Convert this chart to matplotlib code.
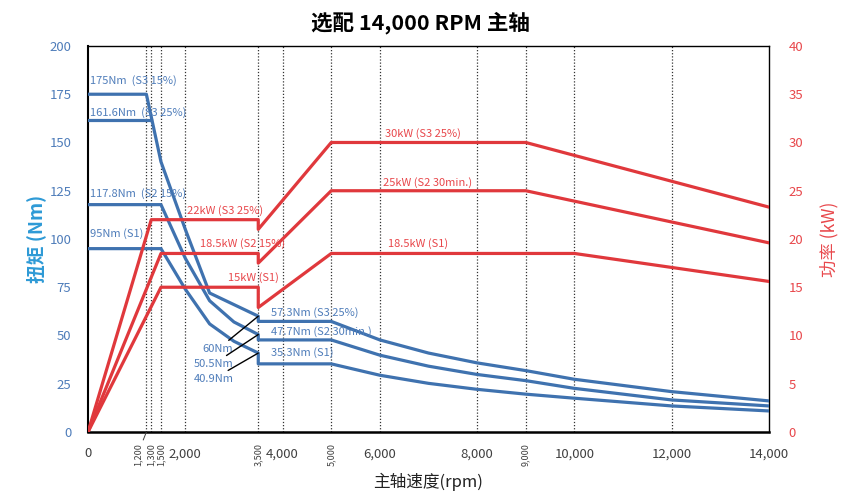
import matplotlib
matplotlib.use("Agg")
import matplotlib.pyplot as plt
import matplotlib.transforms as mtrans

plt.rcParams['font.family'] = ['Noto Sans CJK SC', 'DejaVu Sans']

# ---- data ----
# torque curves (Nm) vs spindle speed (rpm)
rpm_t_s3 = [0, 1200, 1500, 2000, 2500, 3500, 3500, 5000, 6000, 7000, 8000, 9000, 10000, 12000, 14000]
tq_s3 = [175, 175, 140, 105, 72, 60, 57.3, 57.3, 47.7, 40.9, 35.8, 31.8, 27.3, 20.9, 16.1]
rpm_t_s3b = [0, 1300]
tq_s3b = [161.6, 161.6]
rpm_t_s2 = [0, 1500, 2000, 2500, 3000, 3500, 3500, 5000, 6000, 7000, 8000, 9000, 10000, 12000, 14000]
tq_s2 = [117.8, 117.8, 90, 68, 57, 50.5, 47.7, 47.7, 39.8, 34.1, 29.8, 26.6, 22.6, 16.6, 13.5]
rpm_t_s1 = [0, 1500, 2000, 2500, 3000, 3500, 3500, 5000, 6000, 7000, 8000, 9000, 10000, 12000, 14000]
tq_s1 = [95, 95, 74, 56, 47, 40.9, 35.3, 35.3, 29.4, 25.2, 22.1, 19.6, 17.5, 13.5, 10.9]

# power curves (kW)
rpm_p_s3 = [0, 1300, 3500, 3500, 5000, 9000, 14000]
pw_s3 = [0, 22, 22, 21, 30, 30, 23.3]
rpm_p_s2 = [0, 1500, 3500, 3500, 5000, 9000, 14000]
pw_s2 = [0, 18.5, 18.5, 17.5, 25, 25, 19.6]
rpm_p_s1 = [0, 1500, 3500, 3500, 5000, 10000, 14000]
pw_s1 = [0, 15, 15, 12.9, 18.5, 18.5, 15.6]

grid_rpm = [1200, 1300, 1500, 2000, 3500, 4000, 5000, 6000, 8000, 9000, 10000, 12000]
major_ticks = [0, 2000, 4000, 6000, 8000, 10000, 12000, 14000]
minor_labels = [1200, 1300, 1500, 3500, 5000, 9000]

blue = '#3F72AF'
blue_txt = '#4F7DBA'
red = '#E0383C'
red_txt = '#E8474B'

fig = plt.figure(figsize=(8.52, 4.95), dpi=100)
ax = fig.add_axes([0.1033, 0.1273, 0.7993, 0.7798])
ax2 = ax.twinx()

for g in grid_rpm:
    ax.axvline(g, color='#333333', ls=(0, (1, 1.5)), lw=0.9, zorder=1)

lw = 2.3
ax.plot(rpm_t_s3, tq_s3, color=blue, lw=lw, zorder=3)
ax.plot(rpm_t_s3b, tq_s3b, color=blue, lw=lw, zorder=3)
ax.plot(rpm_t_s2, tq_s2, color=blue, lw=lw, zorder=3)
ax.plot(rpm_t_s1, tq_s1, color=blue, lw=lw, zorder=3)

ax2.plot(rpm_p_s3, pw_s3, color=red, lw=lw)
ax2.plot(rpm_p_s2, pw_s2, color=red, lw=lw)
ax2.plot(rpm_p_s1, pw_s1, color=red, lw=lw)

ax.set_xlim(0, 14000)
ax.set_ylim(0, 200)
ax2.set_ylim(0, 40)
ax.set_yticks(range(0, 201, 25))
ax2.set_yticks(range(0, 41, 5))
ax.set_xticks(major_ticks)
ax.set_xticklabels([f'{v:,}' for v in major_ticks])

ax.tick_params(axis='both', length=0, labelsize=9.5)
ax.tick_params(axis='y', colors=blue_txt, pad=12)
ax.tick_params(axis='x', colors='#404040', pad=11)
ax2.tick_params(axis='y', length=0, labelsize=9.5, colors=red_txt, pad=14)

for sp in ['left', 'right', 'top', 'bottom']:
    ax2.spines[sp].set_visible(False)
    ax.spines[sp].set_color('black')
ax.spines['left'].set_linewidth(1.5)
ax.spines['bottom'].set_linewidth(1.8)
ax.spines['top'].set_linewidth(1.0)
ax.spines['right'].set_linewidth(1.0)

# small rotated speed labels under the axis
trans = mtrans.blended_transform_factory(ax.transData, ax.transAxes)
for v in minor_labels:
    if v == 1200:
        ax.annotate(f'{v:,}', xy=(v, 0), xytext=(v - 180, -0.028), textcoords=trans,
                    rotation=90, fontsize=6.5, color='#404040', ha='center', va='top',
                    arrowprops=dict(arrowstyle='-', color='#404040', lw=0.7,
                                    shrinkA=0, shrinkB=0))
    else:
        ax.text(v, -0.028, f'{v:,}', transform=trans, rotation=90, fontsize=6.5,
                color='#404040', ha='center', va='top')

ax.set_xlabel('主轴速度(rpm)', fontsize=12, color='#222222', labelpad=9)
ax.set_ylabel('扭矩 (Nm)', fontsize=13.5, color='#2E9AD6', fontweight='bold', labelpad=2)
ax2.set_ylabel('功率 (kW)', fontsize=12.5, color=red_txt, labelpad=12)
fig.suptitle('选配 14,000 RPM 主轴', fontsize=15.5, fontweight='bold', x=0.493, y=0.978)

fs = 8
# torque labels
ax.text(40, 182, '175Nm  (S3 15%)', fontsize=fs, color=blue_txt, va='center')
ax.text(40, 165.5, '161.6Nm  (S3 25%)', fontsize=fs, color=blue_txt, va='center')
ax.text(40, 123.5, '117.8Nm  (S2 15%)', fontsize=fs, color=blue_txt, va='center')
ax.text(40, 103, '95Nm (S1)', fontsize=fs, color=blue_txt, va='center')
ax.text(3760, 62, '57.3Nm (S3 25%)', fontsize=fs, color=blue_txt, va='center')
ax.text(3760, 52, '47.7Nm (S2 30min.)', fontsize=fs, color=blue_txt, va='center')
ax.text(3760, 41, '35.3Nm (S1)', fontsize=fs, color=blue_txt, va='center')
for lab, yv, ty in [('60Nm', 60, 43), ('50.5Nm', 50.5, 35.2), ('40.9Nm', 40.9, 27.5)]:
    ax.annotate(lab, xy=(3500, yv), xytext=(2990, ty), fontsize=fs, color=blue_txt,
                ha='right', va='center',
                arrowprops=dict(arrowstyle='-', color='black', lw=1.0, shrinkA=1, shrinkB=0))

# power labels
ax2.text(2035, 22.9, '22kW (S3 25%)', fontsize=fs, color=red_txt, va='center')
ax2.text(2300, 19.5, '18.5kW (S2 15%)', fontsize=fs, color=red_txt, va='center')
ax2.text(2880, 16.0, '15kW (S1)', fontsize=fs, color=red_txt, va='center')
ax2.text(6100, 30.9, '30kW (S3 25%)', fontsize=fs, color=red_txt, va='center')
ax2.text(6060, 25.9, '25kW (S2 30min.)', fontsize=fs, color=red_txt, va='center')
ax2.text(6170, 19.5, '18.5kW (S1)', fontsize=fs, color=red_txt, va='center')

fig.savefig('out.png', dpi=100)
